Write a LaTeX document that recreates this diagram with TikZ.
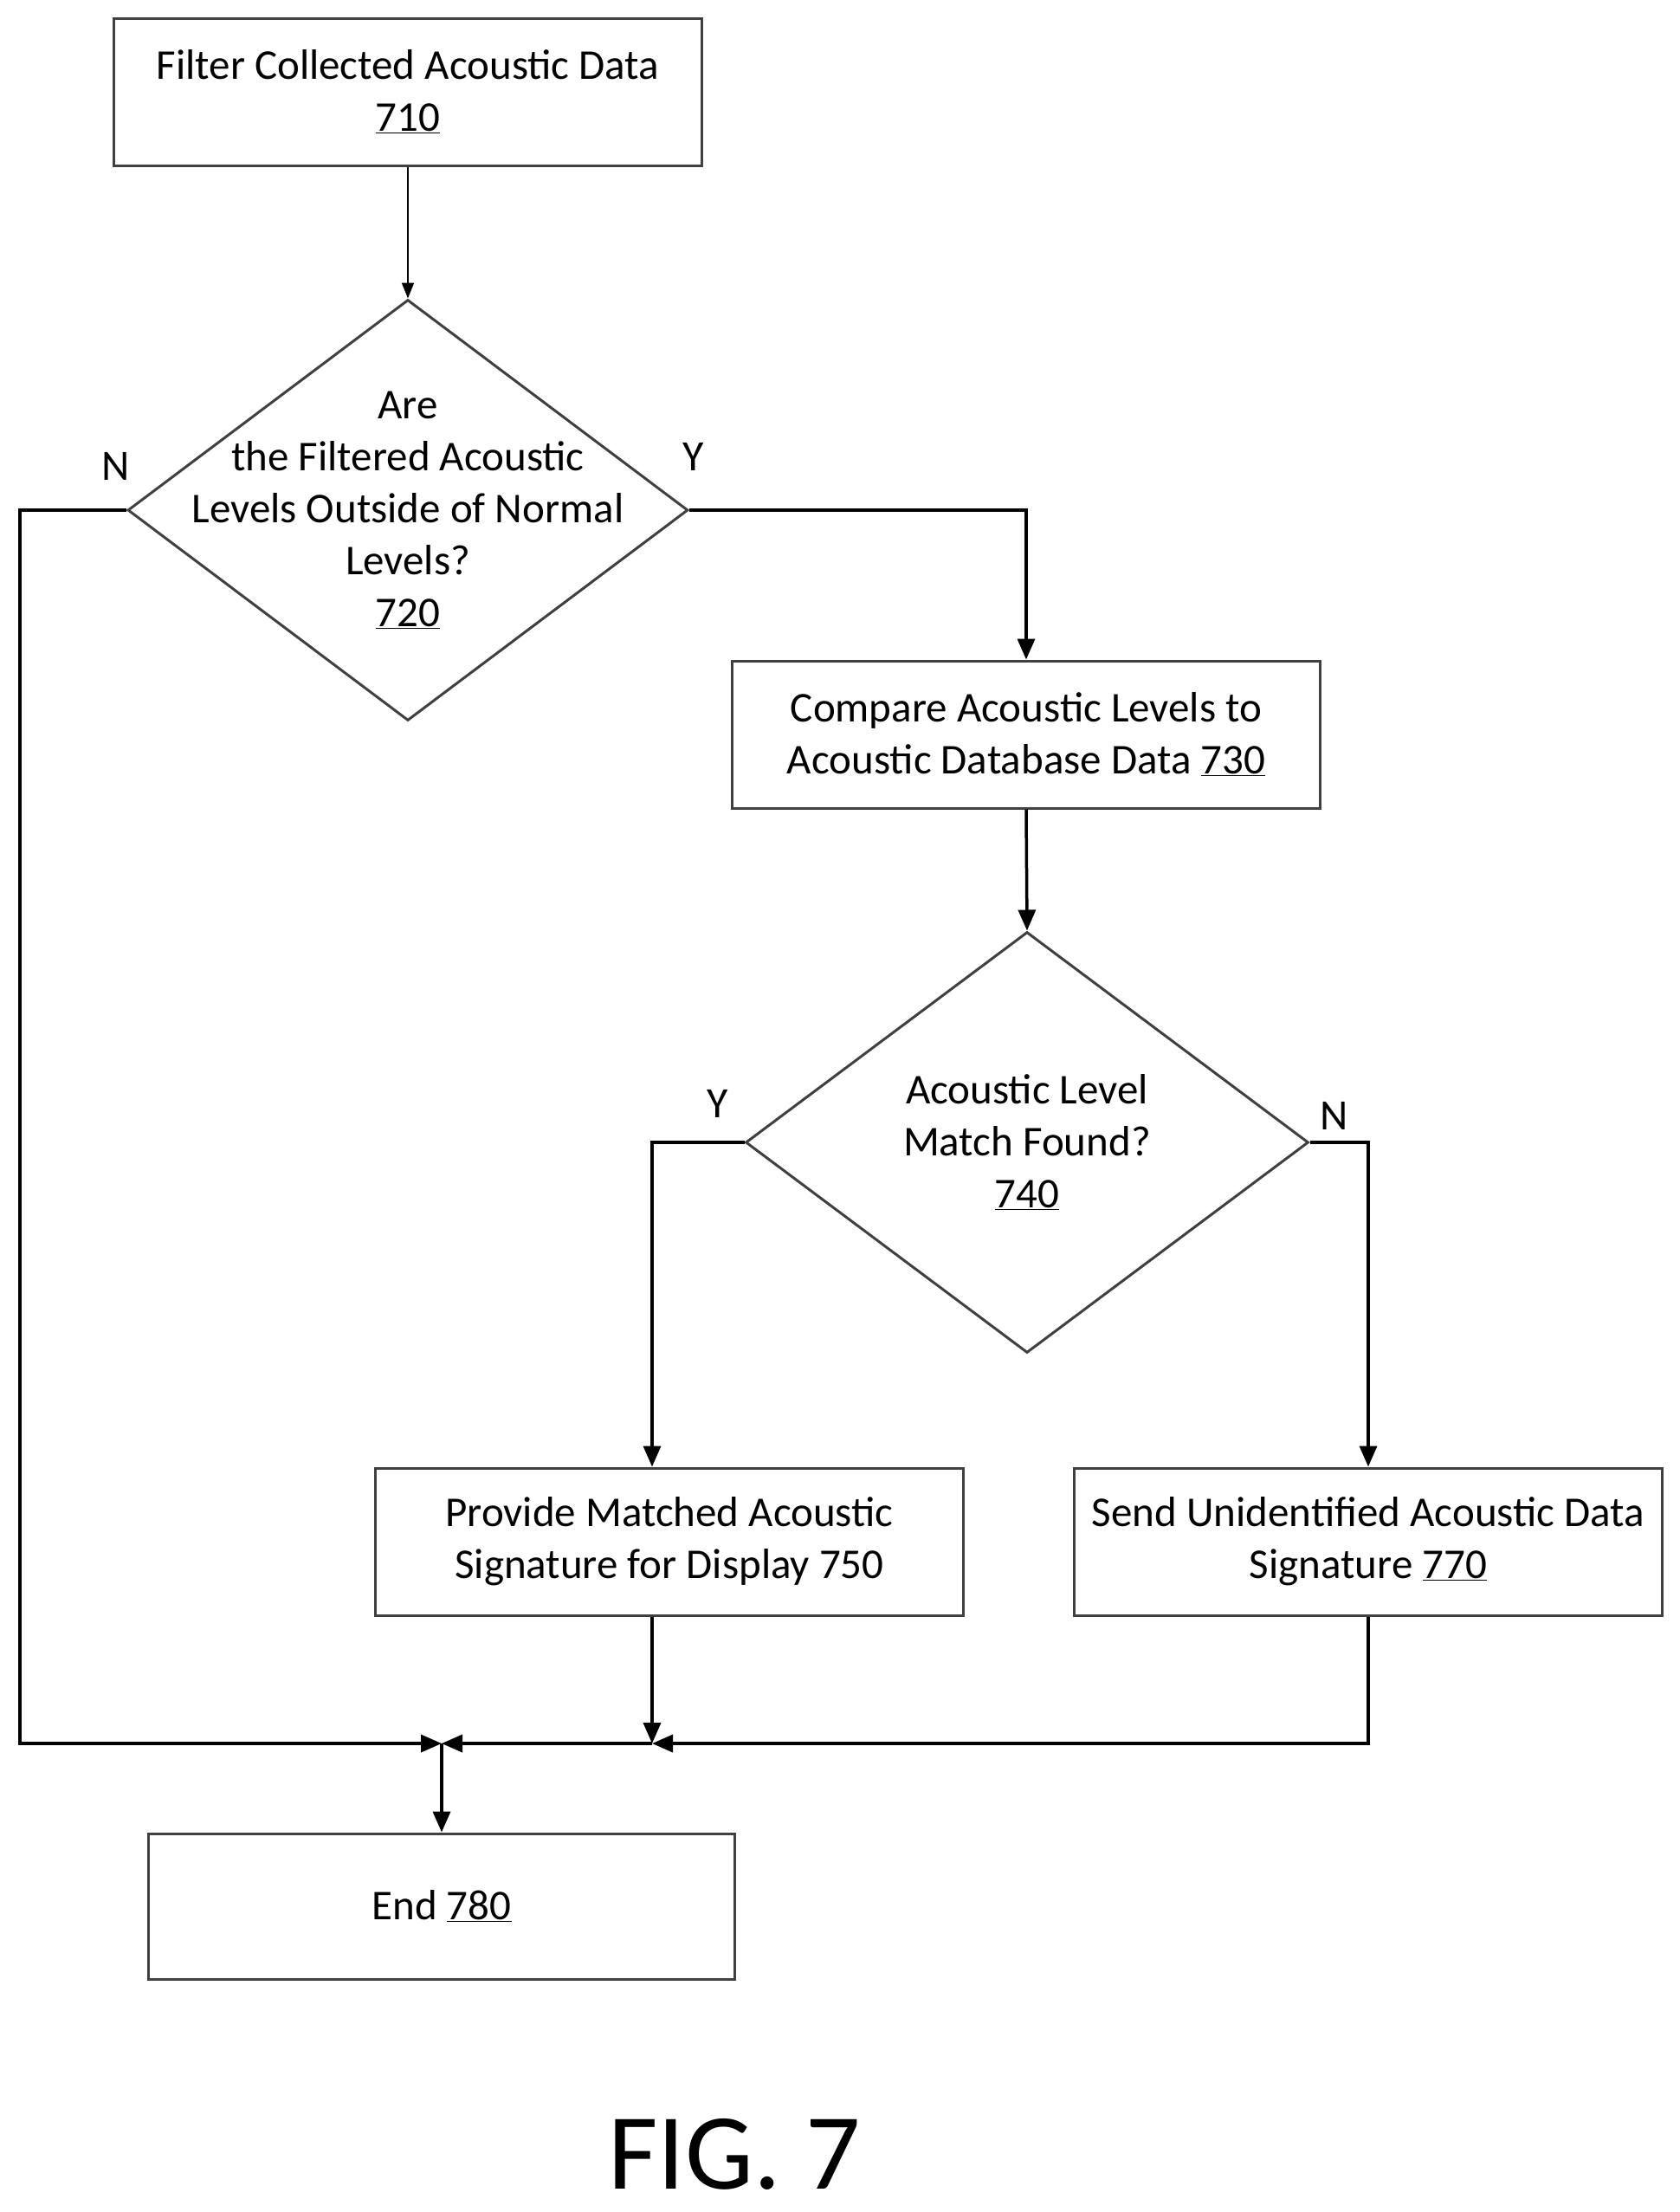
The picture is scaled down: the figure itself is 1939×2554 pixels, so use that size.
\documentclass[tikz,border=0pt]{standalone}
\usepackage{fontspec}
\setmainfont{Carlito}
\usetikzlibrary{shapes.geometric,arrows.meta}
\begin{document}
\begin{tikzpicture}[x=1pt,y=-1pt,
 txt/.style={align=center,font=\fontsize{49}{60}\selectfont},
 box/.style={draw=black!75,line width=3pt,rectangle,minimum width=679pt,minimum height=170pt,txt},
 dia/.style={draw=black!75,line width=3pt,diamond,minimum width=647pt,minimum height=486pt,inner sep=0pt},
 ln/.style={line width=3.5pt,-{Triangle[length=24pt,width=20pt]}},
 lab/.style={font=\fontsize{50}{55}\selectfont}]
\useasboundingbox (0,0) rectangle (1939,2554);
\node[box] (b710) at (471,106) {Filter Collected Acoustic Data\\\underline{710}};
\node[dia] (d720) at (471,589) {};
\node[txt] (t720) at (471,589) {Are\\the Filtered Acoustic\\Levels Outside of Normal\\Levels?\\\underline{720}};
\node[box] (b730) at (1185,848) {Compare Acoustic Levels to\\Acoustic Database Data \underline{730}};
\node[dia,minimum width=650pt] (d740) at (1186,1319) {};
\node[txt] (t740) at (1186,1319) {Acoustic Level\\Match Found?\\\underline{740}};
\node[box] (b750) at (773,1780) {Provide Matched Acoustic\\Signature for Display 750};
\node[box] (b770) at (1580,1780) {Send Unidentified Acoustic Data\\Signature \underline{770}};
\node[box,minimum width=677pt,minimum height=168pt] (b780) at (510,2201) {End \underline{780}};
\coordinate (j) at (510,2013);
\coordinate (m) at (753,2013);
\coordinate (L) at (23,589);
\draw[line width=2pt,-{Triangle[length=18pt,width=14pt]}] (b710.south) -- (d720.north);
\draw[ln] (d720.east) -| (b730.north);
\draw[ln] (b730.south) -- (d740.north);
\draw[ln] (d740.west) -| (b750.north west -| m);
\draw[ln] (d740.east) -| (b770.north);
\draw[ln] (b750.south -| m) -- (m);
\draw[ln] (d720.west) -- (L) |- (j);
\draw[ln] (b770.south) |- (m);
\draw[ln] (m) -- (j);
\draw[ln] (j) -- (b780.north);
\node[lab] (n1) at (134,538) {N};
\node[lab] (y1) at (801,527) {Y};
\node[lab] (y2) at (829,1274) {Y};
\node[lab] (n2) at (1541,1288) {N};
\node[font=\fontsize{125}{130}\selectfont] (fig) at (848,2487) {FIG. 7};
\end{tikzpicture}
\end{document}
